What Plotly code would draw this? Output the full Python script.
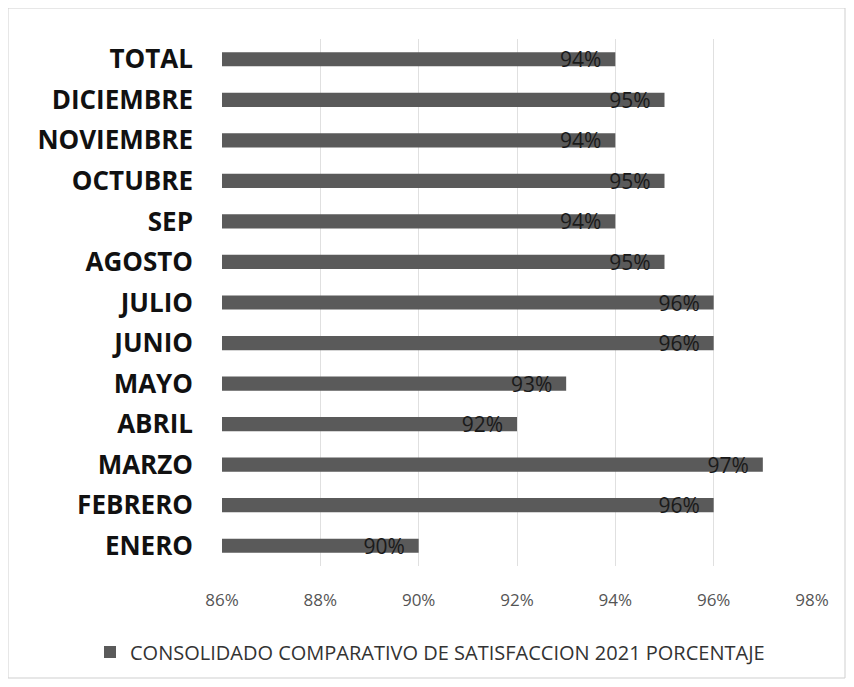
import plotly.graph_objects as go

months = ["ENERO", "FEBRERO", "MARZO", "ABRIL", "MAYO", "JUNIO", "JULIO",
          "AGOSTO", "SEP", "OCTUBRE", "NOVIEMBRE", "DICIEMBRE", "TOTAL"]
values = [0.90, 0.96, 0.97, 0.92, 0.93, 0.96, 0.96,
          0.95, 0.94, 0.95, 0.94, 0.95, 0.94]
tick_vals = [0.86, 0.88, 0.90, 0.92, 0.94, 0.96, 0.98]
tick_text = ["86%", "88%", "90%", "92%", "94%", "96%", "98%"]
series_name = "CONSOLIDADO COMPARATIVO DE SATISFACCION 2021 PORCENTAJE"

fig = go.Figure(go.Bar(
    x=values, y=months, orientation="h", name=series_name,
    marker=dict(color="#5a5a5a", line=dict(width=0)),
    text=[f"{v*100:.0f}%\u00a0\u00a0" for v in values],
    textposition="inside", insidetextanchor="end", constraintext="none",
    textfont=dict(family="Open Sans", size=21, color="#1a1a1a"),
    cliponaxis=False,
))

W, H = 854, 687
OFF = 8  # page body margin
# target plot area in screen pixels: x 222..812, y 39..566
L = 222 - OFF
T = 39 - OFF
R = W - (812 - OFF)
B = H - (566 - OFF)
pw, ph = W - L - R, H - T - B

fig.update_layout(
    width=W, height=H,
    margin=dict(l=L, r=R, t=T, b=B),
    paper_bgcolor="white", plot_bgcolor="white",
    bargap=0.65,
    showlegend=True,
    legend=dict(orientation="h", x=(90 - OFF - L) / pw, xanchor="left",
                y=(H - B - (652 - OFF)) / ph, yanchor="middle",
                itemwidth=30,
                font=dict(family="Open Sans", size=20, color="#333")),
    xaxis=dict(range=[0.86, 0.98], tickvals=tick_vals, ticktext=tick_text,
               showgrid=True, gridcolor="#e0e0e0", gridwidth=1, zeroline=False,
               showline=False, ticks="", ticklabelstandoff=22,
               tickfont=dict(family="Open Sans", size=17, color="#555")),
    yaxis=dict(showgrid=False, ticks="", ticklabelstandoff=28,
               tickfont=dict(family="Open Sans", size=26, color="#111", weight="bold")),
    shapes=[dict(type="rect", xref="paper", yref="paper",
                 x0=(8 - OFF - L) / pw, x1=(845 - OFF - L) / pw,
                 y0=(H - B - (678 - OFF)) / ph, y1=(H - B - (8 - OFF)) / ph,
                 line=dict(color="#cfcfcf", width=1))],
)

fig.write_html("out.html")
